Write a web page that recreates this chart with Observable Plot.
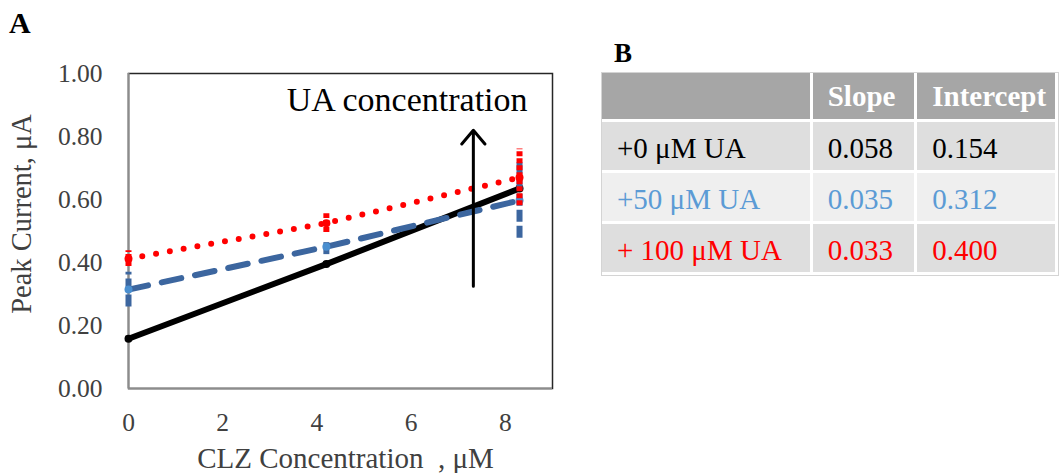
<!DOCTYPE html>
<html><head><meta charset="utf-8">
<script src="https://cdn.jsdelivr.net/npm/d3@7"></script>
<script src="https://cdn.jsdelivr.net/npm/@observablehq/plot@0.6"></script>
<style>
html,body{margin:0;padding:0;background:#fff;}
body{width:1059px;height:473px;overflow:hidden;position:relative;font-family:"Liberation Serif","Times New Roman",serif;}
#chart{position:absolute;left:0;top:0;}
.panel{position:absolute;font-weight:bold;color:#000;line-height:1;}
#tblwrap{position:absolute;left:601px;top:72px;border:1px solid #d4d4d4;background:#fff;}
#tbl{border-collapse:collapse;table-layout:fixed;font-size:29px;}
#tbl td{padding:0 0 0 15px;border-right:3px solid #fff;border-bottom:3px solid #fff;white-space:nowrap;overflow:hidden;vertical-align:middle;line-height:1;}
#tbl tr.h td{background:#a6a6a6;color:#fff;font-weight:bold;height:46px;}
#tbl tr.r td{height:44px;padding-top:4px;}
#tbl tr.odd td{background:#dedede;}
#tbl tr.even td{background:#efefef;}
</style></head>
<body>
<div id="chart"></div>
<div class="panel" style="left:9px;top:8px;font-size:30px;">A</div>
<div class="panel" style="left:614px;top:40px;font-size:27px;">B</div>
<div id="tblwrap"><table id="tbl"><colgroup><col style="width:210px"><col style="width:105px"><col style="width:141px"></colgroup><tbody></tbody></table></div>
<script>
// ---- data ----
const clz = [0, 4.2, 8.3];
const uaLabels = ["+0 μM UA", "+50 μM UA", "+ 100 μM UA"];
const current0 = [0.158, 0.395, 0.635];
const current50 = [0.314, 0.450, 0.597];
const current100 = [0.412, 0.525, 0.670];
const err0 = [0.008, 0.008, 0.008];
const err50 = [0.055, 0.025, 0.12];
const err100 = [0.025, 0.03, 0.09];
const xTicks = [0, 2, 4, 6, 8];
const yTicks = [0, 0.2, 0.4, 0.6, 0.8, 1.0];
const slopes = ["0.058", "0.035", "0.033"];
const intercepts = ["0.154", "0.312", "0.400"];
const tableHeader = ["", "Slope", "Intercept"];
const arrowX = [7.32];
const arrowFrom = [0.325];
const arrowTo = [0.82];
const annotation = ["UA concentration"];
const annotationX = [8.47];
const annotationY = [0.914];
const xTitle = "CLZ Concentration\u00a0 , μM";
const yTitle = "Peak Current, μA";

// ---- styles ----
const styles = [
  {line: "#000000", dot: "#000000", width: 6, dash: null, cap: "round", barDash: null},
  {line: "#3c669f", dot: "#4a8fd0", width: 6, dash: "20,14", cap: "round", barDash: "12,4"},
  {line: "#ff0000", dot: "#ff0000", width: 6, dash: "0,14", cap: "round", barDash: "5,2"}
];
const tableColors = ["#000000", "#5b9bd5", "#ff0000"];

const values = [current0, current50, current100];
const errs = [err0, err50, err100];
const series = values.map((vals, i) => clz.map((x, j) => ({
  series: uaLabels[i], x, y: vals[j], lo: vals[j] - errs[i][j], hi: vals[j] + errs[i][j]
})));

const marks = [
  Plot.frame({stroke: "#262626", strokeWidth: 1.5}),
  Plot.ruleX([0], {stroke: "#8c8c8c", strokeWidth: 2}),
  Plot.ruleY([0], {stroke: "#8c8c8c", strokeWidth: 2}),
  Plot.axisX({ticks: xTicks, tickSize: 0, tickPadding: 24, tickFormat: d => String(d), label: null, fontSize: 25.5}),
  Plot.axisY({ticks: yTicks, tickSize: 0, tickPadding: 26, tickFormat: d => d.toFixed(2), label: null, fontSize: 25.5})
];
series.forEach((rows, i) => {
  const s = styles[i];
  marks.push(Plot.ruleX(rows, {x: "x", y1: "lo", y2: "hi", stroke: s.line, strokeWidth: 6,
    strokeDasharray: s.barDash}));
  marks.push(Plot.line(rows, {x: "x", y: "y", stroke: s.line, strokeWidth: s.width,
    strokeDasharray: s.dash, strokeLinecap: s.cap}));
  marks.push(Plot.dot(rows, {x: "x", y: "y", r: 4, fill: s.dot, stroke: "none"}));
});
marks.push(Plot.arrow(arrowX.map((x, i) => ({x, y1: arrowFrom[i], y2: arrowTo[i]})),
  {x1: "x", x2: "x", y1: "y1", y2: "y2", stroke: "#000", strokeWidth: 3, headLength: 9, headAngle: 80}));
marks.push(Plot.text(annotation.map((t, i) => ({t, x: annotationX[i], y: annotationY[i]})),
  {x: "x", y: "y", text: "t", textAnchor: "end", lineAnchor: "middle", fontSize: 34, fill: "#000"}));
marks.push(Plot.text([xTitle], {frameAnchor: "bottom", text: d => d, dx: 5, dy: 70, lineAnchor: "middle", fontSize: 29, fill: "#404040"}));
marks.push(Plot.text([yTitle], {frameAnchor: "left", text: d => d, rotate: -90, dx: -107, dy: -17, textAnchor: "middle", lineAnchor: "middle", fontSize: 28.5, fill: "#404040"}));

const chart = Plot.plot({
  width: 560, height: 473,
  marginLeft: 128, marginRight: 8, marginTop: 73, marginBottom: 85,
  x: {domain: [0, 9]},
  y: {domain: [0, 1]},
  style: {fontFamily: "'Liberation Serif','Times New Roman',serif", fontSize: "25px", color: "#404040", background: "transparent", overflow: "visible"},
  marks
});
document.getElementById("chart").appendChild(chart);

// ---- table B ----
const tbody = document.querySelector("#tbl tbody");
const hr = document.createElement("tr"); hr.className = "h";
tableHeader.forEach(h => { const td = document.createElement("td"); td.textContent = h; hr.appendChild(td); });
tbody.appendChild(hr);
uaLabels.forEach((lab, i) => {
  const tr = document.createElement("tr");
  tr.className = "r " + (i % 2 === 0 ? "odd" : "even");
  [lab, slopes[i], intercepts[i]].forEach(v => {
    const td = document.createElement("td"); td.textContent = v; td.style.color = tableColors[i]; tr.appendChild(td);
  });
  tbody.appendChild(tr);
});
</script>
</body></html>
